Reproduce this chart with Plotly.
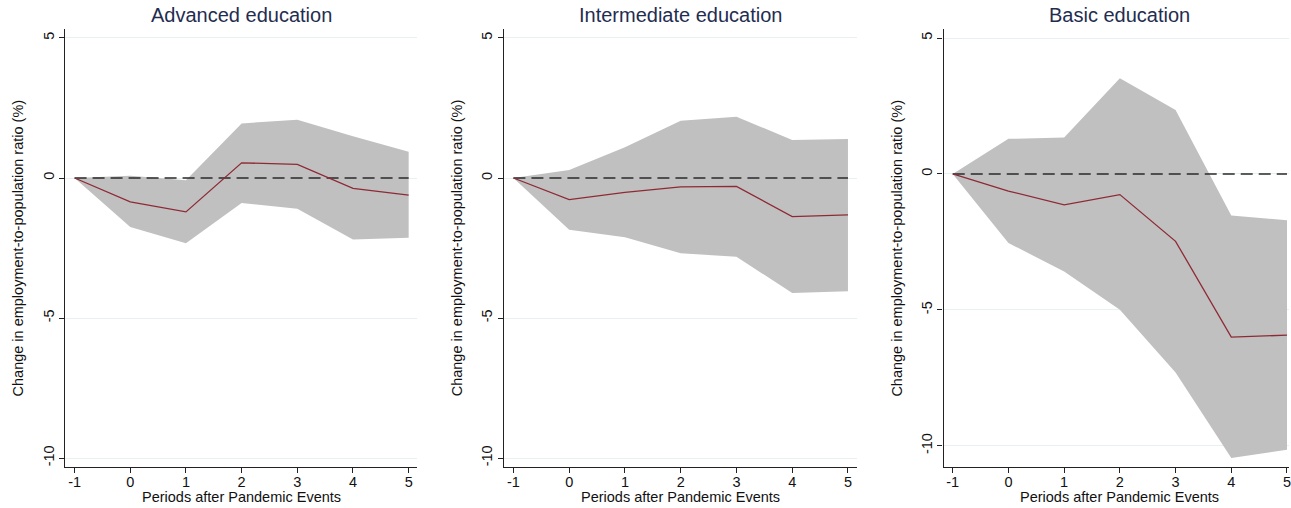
import plotly.graph_objects as go

# Event-study estimates by education group
periods = [-1, 0, 1, 2, 3, 4, 5]
panel_titles = ["Advanced education", "Intermediate education", "Basic education"]

adv_est = [0, -0.85, -1.21, 0.54, 0.49, -0.37, -0.61]
adv_hi = [0, 0.08, -0.08, 1.95, 2.08, 1.49, 0.94]
adv_lo = [0, -1.75, -2.33, -0.89, -1.10, -2.20, -2.13]

int_est = [0, -0.77, -0.51, -0.32, -0.30, -1.38, -1.32]
int_hi = [0, 0.29, 1.10, 2.04, 2.19, 1.36, 1.39]
int_lo = [0, -1.85, -2.12, -2.69, -2.81, -4.11, -4.04]

bas_est = [0, -0.63, -1.14, -0.76, -2.48, -6.00, -5.93]
bas_hi = [0, 1.29, 1.34, 3.52, 2.35, -1.53, -1.70]
bas_lo = [0, -2.54, -3.59, -5.00, -7.30, -10.45, -10.15]

y_ticks = [-10, -5, 0, 5]
x_title = "Periods after Pandemic Events"
y_title = "Change in employment-to-population ratio (%)"

W, H = 1291, 508
FONT = "Liberation Sans, Arial, sans-serif"
BAND = "#c0c0c0"
EST = "#8e2a35"
TITLE_COLOR = "#1f2d50"

panels = [
    (adv_est, adv_hi, adv_lo),
    (int_est, int_hi, int_lo),
    (bas_est, bas_hi, bas_lo),
]

# pixel geometry of each plot area (left, right) and y-range
px_left = [65.5, 505.0, 945.0]
px_right = [418.0, 858.0, 1291.0]
x_ranges = [[-1.165, 5.156], [-1.165, 5.156], [-1.165, 5.036]]
y_ranges = [[-10.32, 5.31], [-10.32, 5.31], [-10.78, 5.32]]
top_px, bot_px = 29.3, 467.0

fig = go.Figure()
annotations = []

for i, (est, hi, lo) in enumerate(panels):
    sfx = "" if i == 0 else str(i + 1)
    xa, ya = "x" + sfx, "y" + sfx

    fig.add_trace(go.Scatter(x=periods, y=hi, mode="lines", line=dict(width=0, color=BAND),
                             xaxis=xa, yaxis=ya, showlegend=False, hoverinfo="skip"))
    fig.add_trace(go.Scatter(x=periods, y=lo, mode="lines", line=dict(width=0, color=BAND),
                             fill="tonexty", fillcolor=BAND,
                             xaxis=xa, yaxis=ya, showlegend=False, hoverinfo="skip"))
    fig.add_trace(go.Scatter(x=[periods[0], periods[-1]], y=[0, 0], mode="lines",
                             line=dict(color="#2a2a2a", width=1.4, dash="12px,6px"),
                             xaxis=xa, yaxis=ya, showlegend=False, hoverinfo="skip"))
    fig.add_trace(go.Scatter(x=periods, y=est, mode="lines",
                             line=dict(color=EST, width=1.3),
                             xaxis=xa, yaxis=ya, showlegend=False))

    dom_x = [px_left[i] / W, min(px_right[i] / W, 1.0)]
    dom_y = [(H - bot_px) / H, (H - top_px) / H]

    fig.update_layout(**{
        "xaxis" + sfx: dict(
            domain=dom_x, range=x_ranges[i], anchor=ya,
            tickmode="array", tickvals=periods, ticktext=[str(p) for p in periods],
            ticks="outside", ticklen=5, tickwidth=1, tickcolor="#222",
            ticklabelstandoff=-4, ticklabeloverflow="allow",
            showline=True, linecolor="#222", linewidth=1.2,
            showgrid=False, zeroline=False,
            tickfont=dict(family=FONT, size=14.5, color="#111"),
        ),
        "yaxis" + sfx: dict(
            domain=dom_y, range=y_ranges[i], anchor=xa,
            tickmode="array", tickvals=y_ticks, ticktext=[str(t) for t in y_ticks],
            tickangle=-90,
            ticks="outside", ticklen=5, tickwidth=1, tickcolor="#222",
            showline=True, linecolor="#222", linewidth=1.2,
            showgrid=True, gridcolor="#e8f0f2", gridwidth=1, zeroline=False,
            tickfont=dict(family=FONT, size=14.5, color="#111"),
        ),
    })

    cx = (px_left[i] + (px_right[i] if i < 2 else px_left[i] + 353)) / 2 / W
    annotations.append(dict(text=panel_titles[i], x=cx, y=1 - 15 / H, xref="paper", yref="paper",
                            xanchor="center", yanchor="middle", showarrow=False,
                            font=dict(family=FONT, size=20, color=TITLE_COLOR)))
    annotations.append(dict(text=x_title, x=cx, y=1 - 497 / H, xref="paper", yref="paper",
                            xanchor="center", yanchor="middle", showarrow=False,
                            font=dict(family=FONT, size=14.5, color="#111")))
    annotations.append(dict(text=y_title, x=(px_left[i] - 47) / W, y=1 - 248 / H,
                            xref="paper", yref="paper", textangle=-90,
                            xanchor="center", yanchor="middle", showarrow=False,
                            font=dict(family=FONT, size=14.5, color="#111")))

fig.update_layout(
    width=W, height=H,
    margin=dict(l=0, r=0, t=0, b=0),
    paper_bgcolor="white", plot_bgcolor="white",
    annotations=annotations,
    showlegend=False,
)

fig.write_html("out.html")
